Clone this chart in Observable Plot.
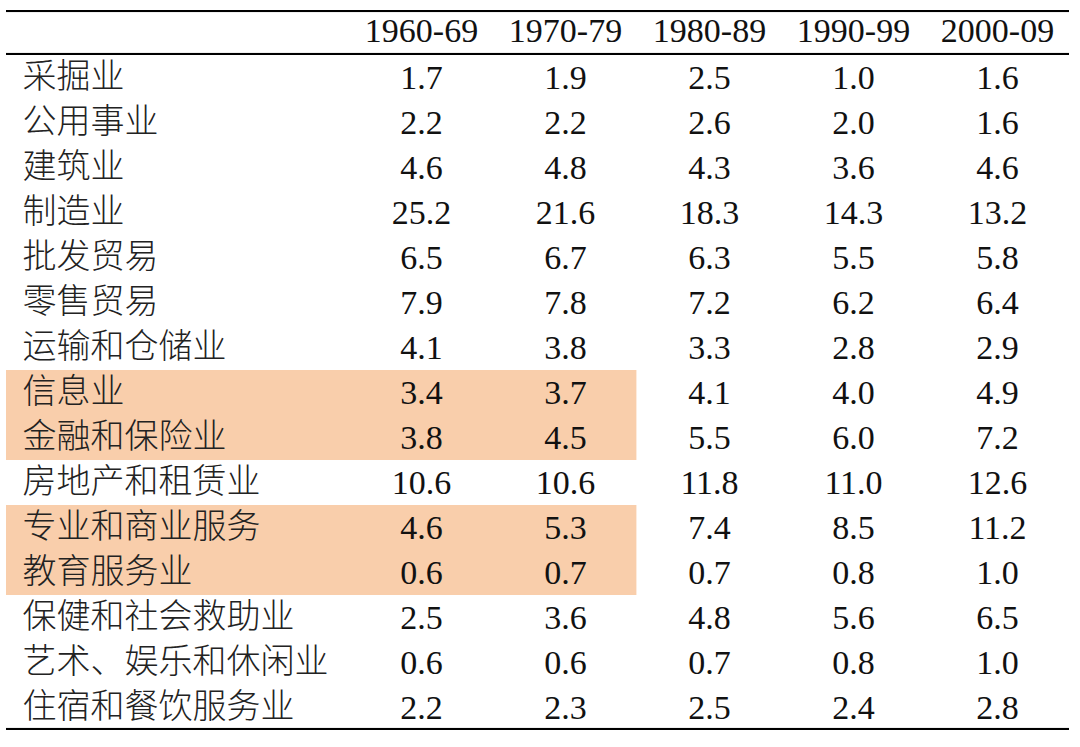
<!DOCTYPE html>
<html><head><meta charset="utf-8">
<script src="https://cdn.jsdelivr.net/npm/d3@7"></script>
<script src="https://cdn.jsdelivr.net/npm/@observablehq/plot@0.6"></script>
<style>html,body{margin:0;padding:0;background:#fff}#chart svg{display:block}</style>
</head><body><div id="chart"></div>
<script>
const periods = ["1960-69", "1970-79", "1980-89", "1990-99", "2000-09"];
const industries = ["采掘业", "公用事业", "建筑业", "制造业", "批发贸易", "零售贸易", "运输和仓储业", "信息业", "金融和保险业", "房地产和租赁业", "专业和商业服务", "教育服务业", "保健和社会救助业", "艺术、娱乐和休闲业", "住宿和餐饮服务业"];
const v1960s = [1.7, 2.2, 4.6, 25.2, 6.5, 7.9, 4.1, 3.4, 3.8, 10.6, 4.6, 0.6, 2.5, 0.6, 2.2];
const v1970s = [1.9, 2.2, 4.8, 21.6, 6.7, 7.8, 3.8, 3.7, 4.5, 10.6, 5.3, 0.7, 3.6, 0.6, 2.3];
const v1980s = [2.5, 2.6, 4.3, 18.3, 6.3, 7.2, 3.3, 4.1, 5.5, 11.8, 7.4, 0.7, 4.8, 0.7, 2.5];
const v1990s = [1.0, 2.0, 3.6, 14.3, 5.5, 6.2, 2.8, 4.0, 6.0, 11.0, 8.5, 0.8, 5.6, 0.8, 2.4];
const v2000s = [1.6, 1.6, 4.6, 13.2, 5.8, 6.4, 2.9, 4.9, 7.2, 12.6, 11.2, 1.0, 6.5, 1.0, 2.8];
const highlighted = ["信息业", "金融和保险业", "专业和商业服务", "教育服务业"];
const headerKey = "header";

const seriesByPeriod = [v1960s, v1970s, v1980s, v1990s, v2000s];
const cells = [];
periods.forEach((p, j) => industries.forEach((ind, i) => cells.push({period: p, industry: ind, value: seriesByPeriod[j][i]})));

const W = 1080, H = 747;
const yRange = [6, 733];
const xRange = [348, 1069];
const bw = (yRange[1] - yRange[0]) / (industries.length + 1);
const colW = (xRange[1] - xRange[0]) / periods.length;
const lineW = 2.5;
const numFont = "'Liberation Serif', 'Times New Roman', 'Noto Sans CJK SC', serif";
const cjkFont = "'Noto Sans CJK SC', sans-serif";

const chart = Plot.plot({
  width: W,
  height: H,
  marginLeft: 6,
  marginRight: W - xRange[1],
  marginTop: yRange[0],
  marginBottom: H - yRange[1],
  x: {type: "band", domain: periods, range: xRange, padding: 0, axis: null},
  y: {type: "band", domain: [headerKey, ...industries], range: yRange, padding: 0, axis: null},
  marks: [
    Plot.cell(highlighted, {y: d => d, fill: "#F9CEAB", insetRight: colW * 3}),
    Plot.cell([headerKey], {y: d => d, fill: "#000", insetBottom: bw - lineW}),
    Plot.cell([headerKey], {y: d => d, fill: "#000", insetTop: bw - lineW}),
    Plot.cell([industries[industries.length - 1]], {y: d => d, fill: "#000", insetTop: bw - lineW}),
    Plot.text(periods, {x: d => d, y: () => headerKey, text: d => d, fontFamily: numFont, fontSize: 34, fill: "#111", dy: -2}),
    Plot.text(industries, {y: d => d, text: d => d, frameAnchor: "left", textAnchor: "start", dx: 16, fontFamily: cjkFont, fontSize: 34, fontWeight: 300, fill: "#222", dy: -1}),
    Plot.text(cells, {x: "period", y: "industry", text: d => d.value.toFixed(1), fontFamily: numFont, fontSize: 34, fill: "#111", dy: 0})
  ]
});
document.getElementById("chart").appendChild(chart);
</script>
</body></html>
